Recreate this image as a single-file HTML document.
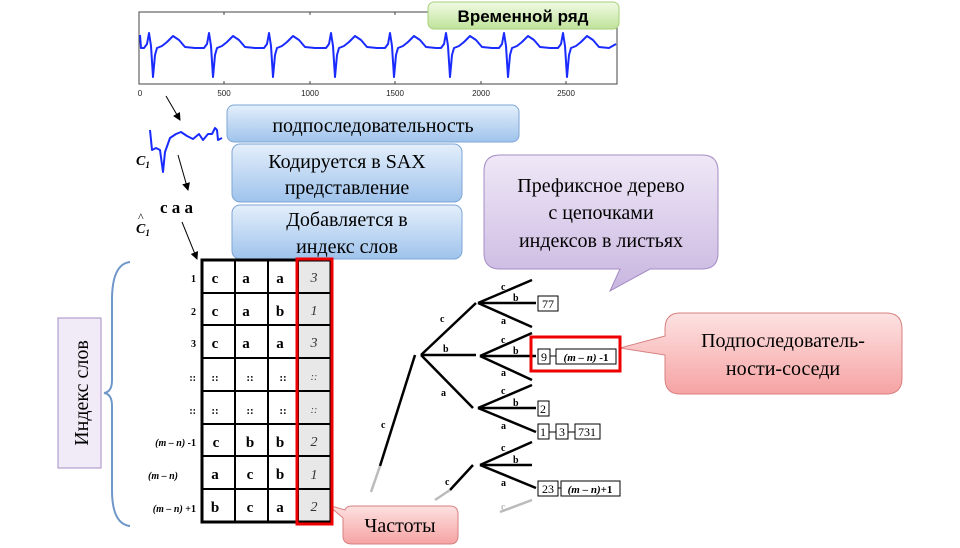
<!DOCTYPE html>
<html><head><meta charset="utf-8"><style>
body{margin:0;background:#fff}
svg{display:block}
.s{font-family:"Liberation Serif",serif}
</style></head><body>
<svg width="960" height="548" viewBox="0 0 960 548" xmlns="http://www.w3.org/2000/svg">
<defs>
<linearGradient id="gb" x1="0" y1="0" x2="0" y2="1"><stop offset="0" stop-color="#e4effb"/><stop offset="1" stop-color="#9fc3ec"/></linearGradient>
<linearGradient id="gp" x1="0" y1="0" x2="0" y2="1"><stop offset="0" stop-color="#efe8f7"/><stop offset="1" stop-color="#c9b6e0"/></linearGradient>
<linearGradient id="gr" x1="0" y1="0" x2="0" y2="1"><stop offset="0" stop-color="#fde2e2"/><stop offset="1" stop-color="#f6a3a3"/></linearGradient>
<linearGradient id="gg" x1="0" y1="0" x2="0" y2="1"><stop offset="0" stop-color="#f1fae4"/><stop offset="1" stop-color="#bfe39a"/></linearGradient>
<marker id="ar" markerWidth="8" markerHeight="8" refX="7" refY="4" orient="auto" markerUnits="userSpaceOnUse"><path d="M0,0 L8,4 L0,8 z" fill="#000"/></marker>
</defs>

<!-- chart -->
<rect x="139" y="12" width="478" height="72" fill="none" stroke="#444" stroke-width="1"/>
<g font-family="Liberation Sans" font-size="8" fill="#222" text-anchor="middle">
<text x="140" y="96">0</text><text x="224" y="96">500</text><text x="310" y="96">1000</text><text x="395" y="96">1500</text><text x="481" y="96">2000</text><text x="566" y="96">2500</text>
</g>
<g stroke="#444"><line x1="224" y1="84" x2="224" y2="81"/><line x1="310" y1="84" x2="310" y2="81"/><line x1="395" y1="84" x2="395" y2="81"/><line x1="481" y1="84" x2="481" y2="81"/><line x1="566" y1="84" x2="566" y2="81"/><line x1="224" y1="12" x2="224" y2="15"/><line x1="310" y1="12" x2="310" y2="15"/><line x1="395" y1="12" x2="395" y2="15"/><line x1="481" y1="12" x2="481" y2="15"/><line x1="566" y1="12" x2="566" y2="15"/></g>
<polyline fill="none" stroke="#1a2bff" stroke-width="2" stroke-linejoin="round" points="140,35 141,48 144,48 147,44 149,33 151,46 153,77 155,55 157,48 162,46 167,42 173,36 179,40 185,47 195,48
204,48 207,44 209,33 211,46 213,77 215,55 217,48 222,46 227,42 233,36 239,40 245,47 255,48
264,48 267,44 269,33 271,46 273,77 275,55 277,48 282,46 287,42 293,36 299,40 305,47 315,48
326,48 329,44 331,33 333,46 335,77 337,55 339,48 344,46 349,42 355,36 361,40 367,47 377,48
385,48 388,44 390,33 392,46 394,77 396,55 398,48 403,46 408,42 414,36 420,40 426,47 436,48
441,48 444,44 446,33 448,46 450,77 452,55 454,48 459,46 464,42 470,36 476,40 482,47 492,48
499,48 502,44 504,33 506,46 508,77 510,55 512,48 517,46 522,42 528,36 534,40 540,47 550,48
558,48 561,44 563,33 565,46 567,77 569,55 571,48 576,46 581,42 587,36 593,40 599,47 609,48 616,44"/>

<rect x="428" y="2" width="191" height="27" rx="6" fill="url(#gg)" stroke="#a6d07a"/>
<text x="523" y="22" text-anchor="middle" font-family="Liberation Sans" font-weight="bold" font-size="17">Временной ряд</text>

<!-- subsequence -->
<polyline points="150,130 152,150 156,148 160,150 163,172 165,152 170,138 176,134 181,132 187,136 193,139 199,134 203,140 208,134 212,134 215,128 217,130 218,140 222,138" fill="none" stroke="#1a2bff" stroke-width="2" stroke-linejoin="round"/>
<line x1="166" y1="96" x2="180" y2="120" stroke="#000" marker-end="url(#ar)"/>
<line x1="178" y1="155" x2="188" y2="190" stroke="#000" marker-end="url(#ar)"/>
<line x1="182" y1="222" x2="197" y2="259" stroke="#000" marker-end="url(#ar)"/>
<text x="136" y="165" font-family="Liberation Serif" font-style="italic" font-weight="bold" font-size="14">C<tspan font-size="9" dy="3">1</tspan></text>
<text x="136" y="233" font-family="Liberation Serif" font-style="italic" font-weight="bold" font-size="14">C<tspan font-size="9" dy="3">1</tspan></text>
<text x="138" y="221" font-size="12" font-family="Liberation Serif">^</text>
<text x="160" y="213" font-family="Liberation Serif" font-weight="bold" font-size="17">c a a</text>

<!-- blue boxes -->
<rect x="227" y="105" width="292" height="37" rx="7" fill="url(#gb)" stroke="#7ea6d6"/>
<text x="373" y="132" text-anchor="middle" class="s" font-size="20">подпоследовательность</text>
<rect x="232" y="144" width="230" height="58" rx="8" fill="url(#gb)" stroke="#7ea6d6"/>
<text x="347" y="168" text-anchor="middle" class="s" font-size="20">Кодируется в SAX</text>
<text x="347" y="194" text-anchor="middle" class="s" font-size="20">представление</text>
<rect x="232" y="205" width="230" height="54" rx="8" fill="url(#gb)" stroke="#7ea6d6"/>
<text x="347" y="226" text-anchor="middle" class="s" font-size="20">Добавляется в</text>
<text x="347" y="253" text-anchor="middle" class="s" font-size="20">индекс слов</text>

<!-- purple callout -->
<path d="M500,155 H702 Q718,155 718,171 V253 Q718,269 702,269 H650 L610,291 L620,269 H500 Q484,269 484,253 V171 Q484,155 500,155 Z" fill="url(#gp)" stroke="#a48cc4"/>
<text x="601" y="192" text-anchor="middle" class="s" font-size="20">Префиксное дерево</text>
<text x="601" y="219" text-anchor="middle" class="s" font-size="20">с цепочками</text>
<text x="601" y="247" text-anchor="middle" class="s" font-size="20">индексов в листьях</text>

<!-- pink callout -->
<path d="M680,313 H886 Q902,313 902,329 V378 Q902,394 886,394 H680 Q665,394 665,378 V355 L620,348 L665,336 V329 Q665,313 680,313 Z" fill="url(#gr)" stroke="#d88080"/>
<text x="783" y="347" text-anchor="middle" class="s" font-size="20">Подпоследователь-</text>
<text x="783" y="375" text-anchor="middle" class="s" font-size="20">ности-соседи</text>

<!-- Частоты -->
<path d="M352,506 H450 Q458,506 458,514 V536 Q458,544 450,544 H352 Q343,544 343,536 V518 L328,505 L345,510 Q346,506 352,506 Z" fill="url(#gr)" stroke="#d88080"/>
<text x="400" y="532" text-anchor="middle" class="s" font-size="20">Частоты</text>

<!-- Index slov -->
<rect x="58" y="318" width="43" height="150" fill="#f0ebf7" stroke="#a48cc4"/>
<text transform="translate(88,393) rotate(-90)" text-anchor="middle" class="s" font-size="20">Индекс слов</text>
<path d="M130,262 Q112,264 112,300 V380 Q112,392 104,393 Q112,394 112,406 V490 Q112,524 130,526" fill="none" stroke="#6f97c9" stroke-width="2"/>

<!-- table -->
<rect x="298" y="260" width="33" height="262" fill="#e8e8e8"/>
<g stroke="#000" stroke-width="2" fill="none">
<rect x="202" y="260" width="129" height="262" stroke-width="3"/>
<line x1="235" y1="260" x2="235" y2="522"/><line x1="268" y1="260" x2="268" y2="522"/><line x1="298" y1="260" x2="298" y2="522"/>
<line x1="202" y1="293" x2="331" y2="293"/><line x1="202" y1="325" x2="331" y2="325"/><line x1="202" y1="358" x2="331" y2="358"/><line x1="202" y1="391" x2="331" y2="391"/><line x1="202" y1="424" x2="331" y2="424"/><line x1="202" y1="456" x2="331" y2="456"/><line x1="202" y1="489" x2="331" y2="489"/>
</g>
<rect x="297" y="259" width="35" height="265" fill="none" stroke="#e00" stroke-width="3"/>
<g font-family="Liberation Serif" font-weight="bold" font-size="15" text-anchor="middle">
<text x="215" y="283">c</text><text x="246" y="283">a</text><text x="280" y="283">a</text>
<text x="215" y="316">c</text><text x="246" y="316">a</text><text x="280" y="316">b</text>
<text x="215" y="348">c</text><text x="246" y="348">a</text><text x="280" y="348">a</text>
<text x="215" y="381" font-size="11">::</text><text x="250" y="381" font-size="11">::</text><text x="283" y="381" font-size="11">::</text>
<text x="215" y="414" font-size="11">::</text><text x="250" y="414" font-size="11">::</text><text x="283" y="414" font-size="11">::</text>
<text x="216" y="447">c</text><text x="250" y="447">b</text><text x="280" y="447">b</text>
<text x="215" y="479">a</text><text x="250" y="479">c</text><text x="280" y="479">b</text>
<text x="215" y="512">b</text><text x="250" y="512">c</text><text x="280" y="512">a</text>
</g>
<g font-family="Liberation Serif" font-style="italic" font-size="14" fill="#333" text-anchor="middle">
<text x="314" y="282">3</text><text x="314" y="315">1</text><text x="314" y="347">3</text>
<text x="314" y="380" font-size="10">::</text><text x="314" y="413" font-size="10">::</text>
<text x="314" y="446">2</text><text x="314" y="479">1</text><text x="314" y="511">2</text>
</g>
<g font-family="Liberation Serif" font-weight="bold" font-size="10" text-anchor="end">
<text x="196" y="282">1</text><text x="196" y="315">2</text><text x="196" y="347">3</text>
<text x="196" y="381">::</text><text x="196" y="414">::</text>
<text x="196" y="446"><tspan font-style="italic">(m – n)</tspan> -1</text>
<text x="178" y="479"><tspan font-style="italic">(m – n)</tspan></text>
<text x="196" y="512"><tspan font-style="italic">(m – n)</tspan> +1</text>
</g>

<!-- tree -->
<g stroke="#000" stroke-width="2.5" fill="none">
<line x1="380" y1="466" x2="415" y2="355"/>
<line x1="421" y1="355" x2="476" y2="303"/><line x1="421" y1="355" x2="476" y2="355"/><line x1="421" y1="355" x2="473" y2="408"/>
<line x1="478" y1="303" x2="532" y2="280"/><line x1="478" y1="303" x2="536" y2="303"/><line x1="478" y1="303" x2="532" y2="327"/>
<line x1="480" y1="356" x2="532" y2="333"/><line x1="480" y1="356" x2="536" y2="356"/><line x1="480" y1="356" x2="532" y2="380"/>
<line x1="478" y1="408" x2="532" y2="385"/><line x1="478" y1="408" x2="536" y2="408"/><line x1="478" y1="408" x2="536" y2="432"/>
<line x1="450" y1="490" x2="473" y2="465"/>
<line x1="480" y1="465" x2="532" y2="442"/><line x1="480" y1="465" x2="532" y2="465"/><line x1="480" y1="465" x2="536" y2="488"/>
</g>
<g stroke="#bbb" stroke-width="2.5"><line x1="371" y1="492" x2="380" y2="466"/><line x1="435" y1="500" x2="450" y2="490"/><line x1="500" y1="512" x2="532" y2="500"/></g>
<g font-family="Liberation Serif" font-weight="bold" font-size="10">
<text x="440" y="322">c</text><text x="443" y="352">b</text><text x="441" y="396">a</text><text x="381" y="428">c</text><text x="445" y="485">c</text>
<text x="501" y="290">c</text><text x="513" y="301">b</text><text x="501" y="324">a</text>
<text x="501" y="343">c</text><text x="513" y="354">b</text><text x="501" y="376">a</text>
<text x="501" y="394">c</text><text x="513" y="406">b</text><text x="501" y="429">a</text>
<text x="501" y="451">c</text><text x="513" y="463">b</text><text x="501" y="486">a</text><text x="501" y="510" fill="#bbb">c</text>
</g>
<g stroke="#000" stroke-width="1" fill="#fff">
<rect x="538" y="296" width="20" height="15"/>
<rect x="538" y="349" width="12" height="15"/><rect x="556" y="349" width="60" height="15"/>
<rect x="538" y="401" width="11" height="15"/>
<rect x="538" y="424" width="11" height="15"/><rect x="556" y="424" width="12" height="15"/><rect x="575" y="424" width="25" height="15"/>
<rect x="538" y="481" width="20" height="15"/><rect x="561" y="481" width="59" height="15"/>
</g>
<g stroke="#000" stroke-width="1"><line x1="550" y1="356" x2="556" y2="356"/><line x1="549" y1="432" x2="556" y2="432"/><line x1="568" y1="432" x2="575" y2="432"/><line x1="558" y1="488" x2="561" y2="488"/></g>
<g font-family="Liberation Serif" font-size="12" text-anchor="middle">
<text x="548" y="308">77</text><text x="544" y="361">9</text>
<text x="586" y="361" font-weight="bold" font-size="11"><tspan font-style="italic">(m – n)</tspan> -1</text>
<text x="543" y="413">2</text>
<text x="543" y="436">1</text><text x="562" y="436">3</text><text x="587" y="436">731</text>
<text x="548" y="493">23</text>
<text x="590" y="493" font-weight="bold" font-size="11"><tspan font-style="italic">(m – n)</tspan>+1</text>
</g>
<rect x="531" y="337" width="89" height="34" fill="none" stroke="#e00" stroke-width="3"/>
</svg>
</body></html>
